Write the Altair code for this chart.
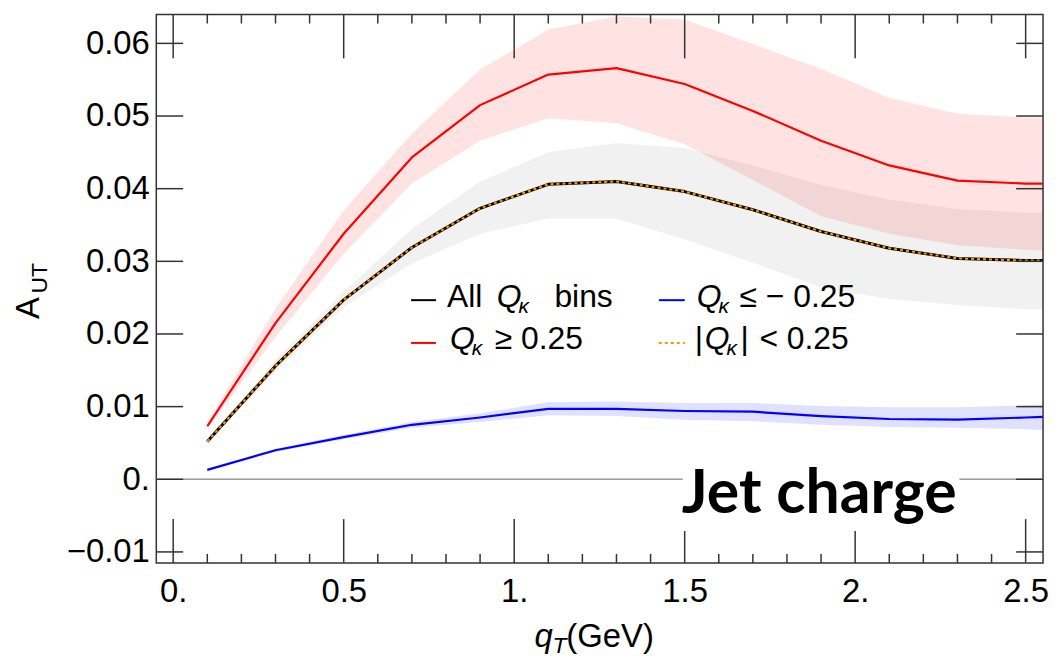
import altair as alt
import pandas as pd

# ---- data ----
q = [0.1, 0.3, 0.5, 0.7, 0.9, 1.1, 1.3, 1.5, 1.7, 1.9, 2.1, 2.3, 2.5, 2.55]

red_mid = [0.0073, 0.0215, 0.0338, 0.0443, 0.0515, 0.0557, 0.0566, 0.0544, 0.0507, 0.0466, 0.0432, 0.0411, 0.0407, 0.0407]
red_hi = [0.0078, 0.0235, 0.0370, 0.0476, 0.0564, 0.0619, 0.0637, 0.0633, 0.0599, 0.0565, 0.0525, 0.0503, 0.0498, 0.0497]
red_lo = [0.0069, 0.0196, 0.0310, 0.0407, 0.0466, 0.0497, 0.0490, 0.0461, 0.0412, 0.0362, 0.0338, 0.0322, 0.0316, 0.0315]

all_mid = [0.0052, 0.0156, 0.0247, 0.0319, 0.0373, 0.0406, 0.0410, 0.0396, 0.0371, 0.0341, 0.0318, 0.0304, 0.0301, 0.0301]
all_hi = [0.0054, 0.0165, 0.0258, 0.0345, 0.0410, 0.0450, 0.0463, 0.0456, 0.0432, 0.0405, 0.0385, 0.0372, 0.0367, 0.0367]
all_lo = [0.0050, 0.0148, 0.0237, 0.0297, 0.0338, 0.0359, 0.0359, 0.0330, 0.0298, 0.0264, 0.0248, 0.0240, 0.0234, 0.0234]

mid_mid = [0.0052, 0.0156, 0.0247, 0.0319, 0.0373, 0.0406, 0.0410, 0.0396, 0.0371, 0.0341, 0.0318, 0.0304, 0.0301, 0.0301]

blue_mid = [0.0013, 0.0040, 0.0058, 0.0075, 0.0085, 0.0097, 0.0097, 0.0094, 0.0093, 0.0087, 0.0083, 0.0082, 0.0085, 0.0086]
blue_hi = [0.0014, 0.0042, 0.0061, 0.0079, 0.0091, 0.0106, 0.0107, 0.0105, 0.0105, 0.0101, 0.0099, 0.0099, 0.0102, 0.0103]
blue_lo = [0.0012, 0.0038, 0.0055, 0.0071, 0.0079, 0.0088, 0.0087, 0.0082, 0.0080, 0.0075, 0.0072, 0.0071, 0.0069, 0.0068]

x_major = [0.0, 0.5, 1.0, 1.5, 2.0, 2.5]
x_minor = [0.1, 0.2, 0.3, 0.4, 0.6, 0.7, 0.8, 0.9, 1.1, 1.2, 1.3, 1.4,
           1.6, 1.7, 1.8, 1.9, 2.1, 2.2, 2.3, 2.4]
y_major = [-0.01, 0.0, 0.01, 0.02, 0.03, 0.04, 0.05, 0.06]

# ---- geometry ----
W, H = 891, 551
FONT = "Liberation Sans"

df = pd.DataFrame({
    "q": q, "red_mid": red_mid, "red_hi": red_hi, "red_lo": red_lo,
    "all_mid": all_mid, "all_hi": all_hi, "all_lo": all_lo,
    "mid_mid": mid_mid,
    "blue_mid": blue_mid, "blue_hi": blue_hi, "blue_lo": blue_lo,
})

xs = alt.Scale(domain=[-0.0496, 2.551], nice=False, zero=False)
ys = alt.Scale(domain=[-0.01151, 0.06397], nice=False, zero=False)

xaxis = alt.Axis(values=x_major, ticks=False, domain=False, grid=False, title=None,
                 labelExpr="datum.value % 1 == 0 ? format(datum.value, 'd') + '.' : format(datum.value, '.1f')",
                 labelFont=FONT, labelFontSize=33, labelColor="black", labelPadding=13,
                 labelFlush=False, labelOverlap=False)
yaxis = alt.Axis(values=y_major, ticks=False, domain=False, grid=False, title=None,
                 labelExpr="datum.value == 0 ? '0.' : format(datum.value, '.2f')",
                 labelFont=FONT, labelFontSize=33, labelColor="black", labelPadding=7,
                 labelOverlap=False)

X = alt.X("q:Q", scale=xs, axis=xaxis)


def band(lo, hi, color, op):
    return alt.Chart(df).mark_area(color=color, opacity=op, interpolate="linear").encode(
        x=X, y=alt.Y(f"{lo}:Q", scale=ys, axis=yaxis), y2=f"{hi}:Q")


def line(col, color, width, dash=None):
    kw = dict(color=color, strokeWidth=width, interpolate="linear", clip=True, strokeJoin="round")
    if dash:
        kw["strokeDash"] = dash
    return alt.Chart(df).mark_line(**kw).encode(x=X, y=alt.Y(f"{col}:Q", scale=ys, axis=yaxis))


bands = [
    band("all_lo", "all_hi", "#000000", 0.055),
    band("red_lo", "red_hi", "#ff0000", 0.11),
    band("blue_lo", "blue_hi", "#0000ff", 0.12),
]

zero = alt.Chart(pd.DataFrame({"v": [0.0]})).mark_rule(color="#9a9a9a", strokeWidth=1.6).encode(
    y=alt.Y("v:Q", scale=ys, axis=yaxis), x=alt.value(0), x2=alt.value(W))

lines = [
    line("red_mid", "#ff0000", 2.2),
    line("blue_mid", "#0000ff", 2.2),
    line("all_mid", "#000000", 3),
    line("mid_mid", "#ff9900", 2, [3, 3]),
]

TC = "#333333"
xmaj = pd.DataFrame({"v": x_major})
xmin = pd.DataFrame({"v": x_minor})
ymaj = pd.DataFrame({"v": y_major})


def xtick(d, y0, y1):
    return alt.Chart(d).mark_rule(color=TC, strokeWidth=1.5).encode(
        x=alt.X("v:Q", scale=xs, axis=xaxis), y=alt.value(y0), y2=alt.value(y1))


def ytick(x0, x1):
    return alt.Chart(ymaj).mark_rule(color=TC, strokeWidth=1.5).encode(
        y=alt.Y("v:Q", scale=ys, axis=yaxis), x=alt.value(x0), x2=alt.value(x1))


ticks = [
    xtick(xmaj, H, H - 44), xtick(xmaj, 0, 44),
    xtick(xmin, H, H - 9), xtick(xmin, 0, 9),
    ytick(0, 27), ytick(W, W - 27),
]

one = pd.DataFrame({"s": [""]})


def txt(s, x, y, size=32, style="normal", font=FONT, weight="normal", angle=0, align="left"):
    return alt.Chart(pd.DataFrame({"s": [s]})).mark_text(
        x=x, y=y, fontSize=size, fontStyle=style, font=font, fontWeight=weight,
        angle=angle, align=align, baseline="alphabetic", color="black").encode(text="s:N")


box = alt.Chart(one).mark_rect(x=529, x2=807, y=453, y2=519, color="white")
jet = txt("Jet charge", 528, 501, size=61, font="Lato", weight="bold")

# legend
LY1, LY2 = 294, 336
def seg(x0, x1, y, color, width=2, dash=None):
    kw = dict(color=color, strokeWidth=width)
    if dash:
        kw["strokeDash"] = dash
    return alt.Chart(one).mark_rule(**kw).encode(x=alt.value(x0), x2=alt.value(x1), y=alt.value(y))

legend = [
    seg(256, 281, LY1 - 7, "#000000"),
    txt("All", 292, LY1), txt("Q", 342, LY1, style="italic"), txt("κ", 364, LY1 + 6, size=21, style="italic"),
    txt("bins", 400, LY1),
    seg(256, 281, LY2 - 6, "#ff0000"),
    txt("Q", 295, LY2, style="italic"), txt("κ", 317, LY2 + 6, size=21, style="italic"),
    txt("≥ 0.25", 340, LY2),
    seg(505, 531, LY1 - 7, "#0000ff"),
    txt("Q", 543, LY1, style="italic"), txt("κ", 565, LY1 + 6, size=21, style="italic"),
    txt("≤ − 0.25", 586, LY1),
    seg(505, 531, LY2 - 6, "#ff9900", 2, [3, 3]),
    txt("|", 541, LY2), txt("Q", 551, LY2, style="italic"), txt("κ", 573, LY2 + 6, size=21, style="italic"),
    txt("|", 587, LY2), txt("< 0.25", 606, LY2),
]

# axis titles
titles = [
    txt("A", -118, 295, size=33, angle=270, align="center"),
    txt("UT", -110, 265, size=23, angle=270, align="center"),
    txt("q", 380, 636, size=33, style="italic"),
    txt("T", 398, 642, size=23, style="italic"),
    txt("(GeV)", 412, 636, size=33),
]

chart = alt.layer(*bands, zero, *lines, *ticks, box, jet, *legend, *titles).properties(
    width=W, height=H,
    autosize=alt.AutoSizeParams(type="none"),
    padding={"left": 149, "top": 5, "right": 8, "bottom": 95},
).configure_view(stroke=TC, strokeWidth=1.5)

chart.save("out.html", embed_options={"renderer": "svg", "actions": False})
